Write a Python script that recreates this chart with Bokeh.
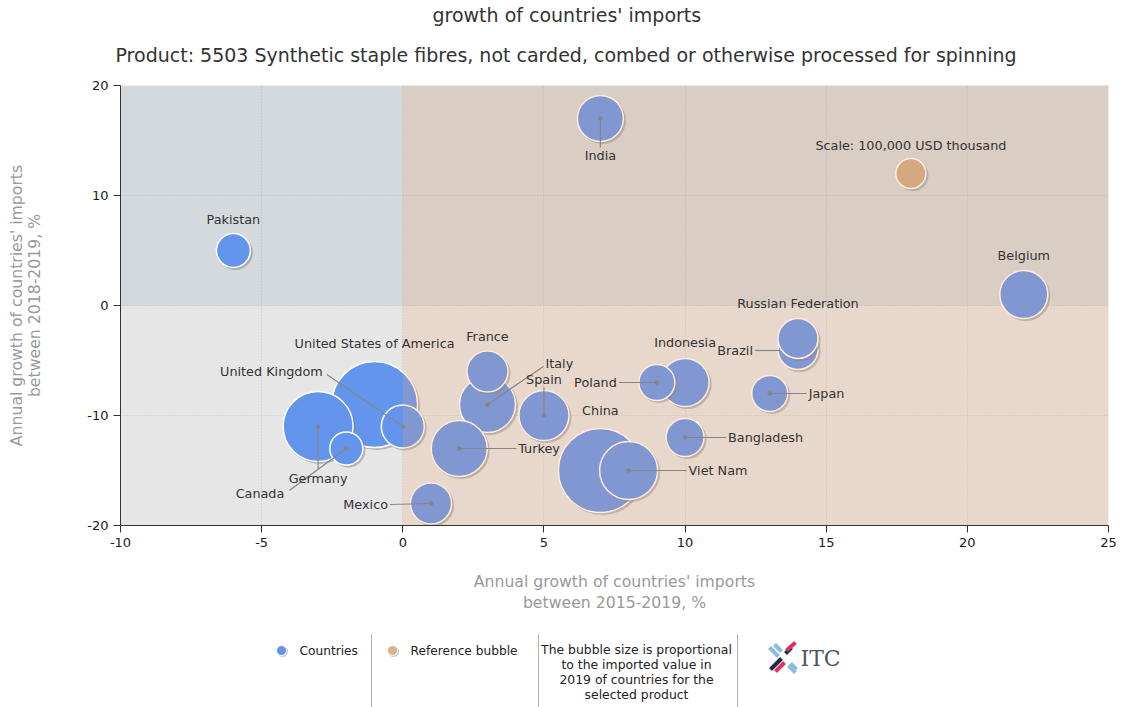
import math
from bokeh.plotting import figure
from bokeh.models import Range1d, FixedTicker, Title
from bokeh.layouts import column
from bokeh.embed import file_html
from bokeh.resources import INLINE
from bokeh.core.properties import value

# ---------------- data ----------------
countries = ["India", "Pakistan", "Belgium", "Brazil", "Russian Federation", "Indonesia",
             "Poland", "Japan", "Bangladesh", "Viet Nam", "China", "France", "Italy",
             "Spain", "Turkey", "Mexico", "United States of America", "United Kingdom",
             "Germany", "Canada"]
growth_2015_2019 = [7, -6, 22, 14, 14, 10, 9, 13, 10, 8, 7, 3, 3, 5, 2, 1, -1, 0, -3, -2]
growth_2018_2019 = [17, 5, 1, -4, -3, -7, -7, -8, -12, -15, -15, -6, -9, -10, -13, -18, -9, -11, -11, -13]
import_value_2019 = [235000, 128000, 256000, 178000, 178000, 256000, 144000, 144000, 160000,
                     374000, 784000, 187000, 348000, 278000, 348000, 187000, 822000, 205000,
                     544000, 121000]  # USD thousand

ref_label = "Scale: 100,000 USD thousand"
ref_x, ref_y, ref_value = 18, 12, 100000

x_ticks = [-10, -5, 0, 5, 10, 15, 20, 25]
y_ticks = [-20, -10, 0, 10, 20]

title_lines = ["growth of countries' imports",
               "Product: 5503 Synthetic staple fibres, not carded, combed or otherwise processed for spinning"]
x_label_lines = ["Annual growth of countries' imports", "between 2015-2019, %"]
y_label_lines = ["Annual growth of countries' imports", "between 2018-2019, %"]
legend_items = ["Countries", "Reference bubble"]
legend_note = ["The bubble size is proportional", "to the imported value in",
               "2019 of countries for the", "selected product"]

# label placement (pixel offsets from bubble centre, y downwards):
# (text dx, text dy, align, leader end or None, leader start)
label_layout = {
    "India": (0, 37, "center", (0, 29), (0, 0)),
    "Pakistan": (0, -31, "center", None, None),
    "Belgium": (0, -39, "center", None, None),
    "Brazil": (-45, 1, "right", (-43, 1), (-19, 1)),
    "Russian Federation": (0, -35, "center", None, None),
    "Indonesia": (0, -40, "center", None, None),
    "Poland": (-40, 0, "right", (-38, 0), (0, 0)),
    "Japan": (39, 0, "left", (37, 0), (0, 0)),
    "Bangladesh": (43, 0, "left", (41, 0), (0, 0)),
    "Viet Nam": (60, 0, "left", (58, 0), (0, 0)),
    "China": (0, -60, "center", None, None),
    "France": (0, -35, "center", None, None),
    "Italy": (58, -41, "left", (56, -38), (0, 0)),
    "Spain": (0, -36, "center", (0, -28), (0, 0)),
    "Turkey": (59, 0, "left", (57, 0), (0, 0)),
    "Mexico": (-43, 1, "right", (-41, 1), (0, 0)),
    "United States of America": (0, -61, "center", None, None),
    "United Kingdom": (-80, -55, "right", (-76, -52), (0, 0)),
    "Germany": (0, 52, "center", (0, 42), (0, 0)),
    "Canada": (-62, 45, "right", (-57, 42), (0, 0)),
}

FONT = "DejaVu Sans"
W = 1122
H_MAIN = 620
H_LEG = 87
B_L, B_R, B_T, B_B = 120, 14, 85, 95
X0, X1 = x_ticks[0], x_ticks[-1]
Y0, Y1 = y_ticks[0], y_ticks[-1]
PXX = (W - B_L - B_R) / (X1 - X0)
PXY = (H_MAIN - B_T - B_B) / (Y1 - Y0)
REF_R = 15  # px radius of the reference bubble


def diam(v):
    return 2 * REF_R * math.sqrt(v / ref_value)


p = figure(width=W, height=H_MAIN, output_backend="svg", toolbar_location=None,
           x_range=Range1d(X0, X1), y_range=Range1d(Y0, Y1),
           min_border_left=B_L, min_border_right=B_R, min_border_top=B_T, min_border_bottom=B_B)
p.background_fill_color = "#e6e6e6"
p.border_fill_color = "white"
p.outline_line_color = None

# titles: figure title (outermost) = first line; an extra Title next to the frame = second line
title_style = dict(text_font=FONT, text_font_size="19px", text_font_style="normal", text_color="#333333",
                   text_line_height=1.0)
p.title.text = title_lines[0]
p.title.align = "left"
p.title.offset = 312
p.title.standoff = 2
for k, v in title_style.items():
    setattr(p.title, k, v)
p.add_layout(Title(text=title_lines[1], align="left", offset=-5, standoff=35, vertical_align="top",
                   **title_style), "above")

for ax, ticks in ((p.xaxis[0], x_ticks), (p.yaxis[0], y_ticks)):
    ax.ticker = FixedTicker(ticks=ticks)
    ax.major_label_overrides = {t: str(t) for t in ticks}
    ax.major_tick_out = 7
    ax.major_tick_in = 0
    ax.minor_tick_line_color = None
    ax.axis_line_color = "#333333"
    ax.major_tick_line_color = "#333333"
    ax.major_label_text_font = FONT
    ax.major_label_text_font_size = "13px"
    ax.major_label_text_color = "#1a1a1a"
    ax.major_label_standoff = 5
    ax.axis_label_text_font = FONT
    ax.axis_label_text_font_size = "15.7px"
    ax.axis_label_text_font_style = "normal"
    ax.axis_label_text_color = "#999999"
    ax.axis_label_text_align = "center"

p.xaxis[0].axis_label = "\n".join(x_label_lines)
p.yaxis[0].axis_label = "\n".join(y_label_lines)
p.xaxis[0].axis_label_standoff = 22
p.xaxis[0].axis_label_text_line_height = 1.15
p.yaxis[0].axis_label_standoff = 40
p.yaxis[0].axis_label_text_line_height = 0.95

p.xgrid.ticker = FixedTicker(ticks=x_ticks)
p.ygrid.ticker = FixedTicker(ticks=y_ticks)
p.grid.grid_line_color = "#c2c2c2"
p.grid.grid_line_dash = "1 2"
p.grid.grid_line_alpha = 0.9

# upper half shading (below bubbles)
p.quad(left=[X0], right=[X1], bottom=[0], top=[Y1], fill_color="#6080a0", fill_alpha=0.13, line_alpha=0)

# bubbles, largest first
order = sorted(range(len(countries)), key=lambda i: -import_value_2019[i])
dx_sh, dy_sh = 2 / PXX, 2 / PXY
for i in order:
    x, y, v = growth_2015_2019[i], growth_2018_2019[i], import_value_2019[i]
    p.scatter(x=[x + dx_sh], y=[y - dy_sh], size=diam(v) + 1, fill_color="#7a7a7a", fill_alpha=0.45,
              line_alpha=0)
    p.scatter(x=[x], y=[y], size=diam(v), fill_color="#6495ed", line_color="white", line_width=1.5)

# reference bubble
p.scatter(x=[ref_x + dx_sh], y=[ref_y - dy_sh], size=diam(ref_value) + 1, fill_color="#7a7a7a",
          fill_alpha=0.45, line_alpha=0)
p.scatter(x=[ref_x], y=[ref_y], size=diam(ref_value), fill_color="#cfab88", line_color="white", line_width=1.5)

# right half shading (over bubbles)
p.quad(left=[0], right=[X1], bottom=[Y0], top=[Y1], fill_color="#f0a064", fill_alpha=0.2, line_alpha=0)

# leader lines and labels
seg = dict(x0=[], y0=[], x1=[], y1=[])
dots = dict(x=[], y=[])
texts = {"left": dict(x=[], y=[], t=[]), "right": dict(x=[], y=[], t=[]), "center": dict(x=[], y=[], t=[])}
for i, name in enumerate(countries):
    x, y = growth_2015_2019[i], growth_2018_2019[i]
    tdx, tdy, align, lend, lstart = label_layout[name]
    texts[align]["x"].append(x + tdx / PXX)
    texts[align]["y"].append(y - tdy / PXY)
    texts[align]["t"].append(name)
    if lend is not None:
        seg["x0"].append(x + lstart[0] / PXX)
        seg["y0"].append(y - lstart[1] / PXY)
        seg["x1"].append(x + lend[0] / PXX)
        seg["y1"].append(y - lend[1] / PXY)
        if lstart == (0, 0):
            dots["x"].append(x)
            dots["y"].append(y)
texts["center"]["x"].append(ref_x)
texts["center"]["y"].append(ref_y + 28 / PXY)
texts["center"]["t"].append(ref_label)

p.segment(x0=seg["x0"], y0=seg["y0"], x1=seg["x1"], y1=seg["y1"], line_color="#858585", line_width=1.2)
p.scatter(x=dots["x"], y=dots["y"], size=4.5, fill_color="#858585", line_alpha=0)
for align, d in texts.items():
    p.text(x=d["x"], y=d["y"], text=d["t"], text_align=align, text_baseline="middle",
           text_font=value(FONT), text_font_size="12.8px", text_color="#333333")

# ---------------- legend strip (frame aligned with main frame; data units = page pixels) ----------------
lg = figure(width=W, height=H_LEG, output_backend="svg", toolbar_location=None,
            x_range=Range1d(B_L, W - B_R), y_range=Range1d(H_MAIN + H_LEG, H_MAIN),
            min_border=0, x_axis_type=None, y_axis_type=None)
lg.grid.visible = False
lg.outline_line_color = None
lg.background_fill_color = "white"
lg.border_fill_color = "white"

lg.scatter(x=[282, 393], y=[651, 651], size=11, fill_color="#999999", fill_alpha=0.5, line_alpha=0)
lg.scatter(x=[281, 392], y=[650, 650], size=10, fill_color=["#6495ed", "#dcb386"], line_color="white",
           line_width=1)
lg.text(x=[299, 410], y=[650, 650], text=legend_items, text_baseline="middle",
        text_font=value(FONT), text_font_size="12.2px", text_color="#222222")
lg.segment(x0=[371, 538, 737], y0=[634, 634, 634], x1=[371, 538, 737], y1=[707, 707, 707],
           line_color="#b0b0b0", line_width=1)
lg.text(x=[636] * 4, y=[649, 664, 679, 694], text=legend_note, text_align="center",
        text_baseline="middle", text_font=value(FONT), text_font_size="12.4px", text_color="#222222")
# ITC logo
lg.segment(x0=[769, 774, 788, 770, 775, 785, 786, 790], y0=[647, 644, 665, 669, 671, 653, 650, 663],
           x1=[778, 781, 795, 781, 784, 791, 795, 796], y1=[656, 651, 672, 658, 662, 647, 642, 669],
           line_color=["#8cbde0", "#8cbde0", "#8cbde0", "#1e2b4c", "#e0335c", "#1e2b4c", "#e0335c", "#8cbde0"],
           line_width=4)
lg.text(x=[800], y=[658], text=["ITC"], text_baseline="middle", text_font=value("DejaVu Serif"),
        text_font_size="22px", text_color="#4a5568")

layout = column(p, lg, spacing=0)
open("out.html", "w").write(file_html(layout, INLINE))
